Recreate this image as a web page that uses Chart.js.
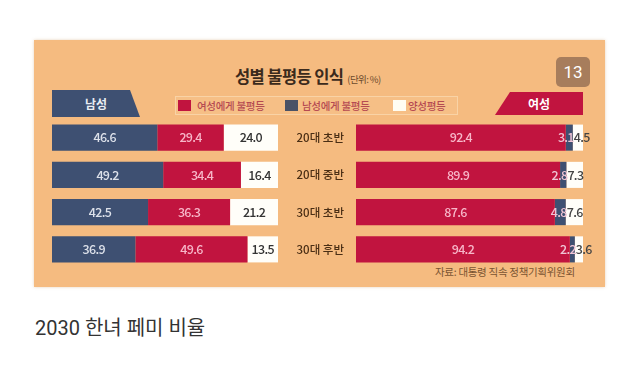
<!DOCTYPE html>
<html>
<head>
<meta charset="utf-8">
<script src="https://cdn.jsdelivr.net/npm/chart.js@4"></script>
<style>
  body { margin: 0; width: 640px; height: 373px; background: #fff; position: relative; overflow: hidden;
         font-family: "Noto Sans CJK KR", "Noto Sans", sans-serif; }
  .abs { position: absolute; }
  #panel { left: 34px; top: 40px; width: 571px; height: 247px; background: #F5BB80;
           box-shadow: 0 0 3px rgba(200,150,90,0.4); }
  #title { left: 235px; top: 64px; font-size: 16.5px; font-weight: 700; color: #3b2a1c; letter-spacing: -0.6px; white-space: nowrap; }
  #title span { font-size: 9.5px; font-weight: 400; color: #6b4a2c; margin-left: 4px; }
  #legend { left: 175px; top: 96px; width: 281px; height: 17px; border: 1px solid #F9D3A6; background: #F6BF86;
            font-size: 10.5px; font-weight: 500; color: #B54A52; letter-spacing: -0.3px; white-space: nowrap; }
  #legend i { position: absolute; top: 3px; width: 13px; height: 11px; }
  #legend b { position: absolute; top: 0px; font-weight: 500; line-height: 17px; }
  .pill { top: 90px; height: 27px; color: #e9ecf2; font-size: 12px; font-weight: 700; line-height: 27px; text-align: center; }
  #men { left: 52px; width: 88px; background: #3E5072; clip-path: polygon(0 0, 78px 0, 88px 100%, 0 100%); }
  #women { left: 495px; width: 88px; top: 92px; height: 23px; line-height: 23px; color: #fff; background: #C1143F; clip-path: polygon(15px 0, 100% 0, 100% 100%, 0 100%); }
  #badge { left: 556px; top: 57px; width: 34px; height: 30px; border-radius: 5px; background: #A77D5C; color: #fff;
           font-family: Roboto, sans-serif; font-size: 17px; line-height: 30px; text-align: center; }
  #source { left: 435px; top: 264px; font-size: 10.5px; color: #7a5432; letter-spacing: -0.3px; white-space: nowrap; }
  #caption { left: 35px; top: 312px; font-size: 20px; color: #333; white-space: nowrap; font-family: Roboto, "Noto Sans CJK KR", sans-serif; }
  #leftBox { left: 52px; top: 119px; width: 226px; height: 149px; }
  #rightBox { left: 280px; top: 119px; width: 320px; height: 149px; }
</style>
</head>
<body>
<div id="panel" class="abs"></div>
<div id="title" class="abs">성별 불평등 인식<span>(단위: %)</span></div>
<div id="legend" class="abs">
  <i style="left:2px;background:#C1143F"></i><b style="left:21px">여성에게 불평등</b>
  <i style="left:109px;background:#4a5266"></i><b style="left:126px">남성에게 불평등</b>
  <i style="left:217px;background:#fffdf2"></i><b style="left:232px">양성평등</b>
</div>
<div id="men" class="abs pill">남성</div>
<div id="women" class="abs pill">여성</div>
<div id="badge" class="abs">13</div>
<div id="source" class="abs">자료: 대통령 직속 정책기획위원회</div>
<div id="caption" class="abs">2030 한녀 페미 비율</div>
<div id="leftBox" class="abs"><canvas id="menChart"></canvas></div>
<div id="rightBox" class="abs"><canvas id="womenChart"></canvas></div>
<script>
const categories = ["20대 초반", "20대 중반", "30대 초반", "30대 후반"];
// 남성 응답
const menUnfairToMen = [46.6, 49.2, 42.5, 36.9];
const menUnfairToWomen = [29.4, 34.4, 36.3, 49.6];
const menEqual = [24.0, 16.4, 21.2, 13.5];
// 여성 응답
const womenUnfairToWomen = [92.4, 89.9, 87.6, 94.2];
const womenUnfairToMen = [3.1, 2.8, 4.8, 2.2];
const womenEqual = [4.5, 7.3, 7.6, 3.6];

const BLUE = "#3E5072";
const RED = "#C1143F";
const WHITE = "#FFFEF9";

// 막대 안에 값 쓰기 (좁은 칸은 끝/시작에 붙여서)
const segmentLabels = {
  id: "segmentLabels",
  afterDatasetsDraw(chart) {
    const ctx = chart.ctx;
    ctx.save();
    ctx.font = "500 12.5px 'Noto Sans CJK KR'";
    ctx.letterSpacing = "-0.7px";
    ctx.textBaseline = "middle";
    chart.data.datasets.forEach((ds, i) => {
      ctx.fillStyle = ds.labelColor;
      chart.getDatasetMeta(i).data.forEach((bar, j) => {
        const { x, y, base } = bar.getProps(["x", "y", "base"], true);
        let tx = (x + base) / 2;
        ctx.textAlign = "center";
        if (ds.labelAlign === "end") {
          ctx.textAlign = "right";
          tx = x + 1;
        } else if (ds.labelAlign === "start") {
          ctx.textAlign = "left";
          tx = base + 1;
        }
        ctx.fillText(ds.data[j].toFixed(1), tx, y);
      });
    });
    ctx.restore();
  },
};

const makeDataset = (label, data, color, labelColor, labelAlign = "center") => ({
  label,
  data,
  backgroundColor: color,
  labelColor,
  labelAlign,
  borderWidth: 0,
  categoryPercentage: 1,
  barPercentage: 0.7,
});

const baseOptions = (showCategories) => ({
  indexAxis: "y",
  responsive: true,
  maintainAspectRatio: false,
  animation: false,
  plugins: { legend: { display: false }, tooltip: { enabled: false } },
  layout: { padding: showCategories ? { right: 17 } : 0 },
  scales: {
    x: { stacked: true, min: 0, max: 100, display: false },
    y: {
      stacked: true,
      display: showCategories,
      grid: { display: false, drawTicks: false },
      border: { display: false },
      ticks: { color: "#4a2e14", font: { family: "Noto Sans CJK KR", size: 11.5, weight: 500 }, padding: 12 },
      afterFit: (scale) => {
        if (showCategories) {
          scale.width = 76;
          scale.paddingTop = 0;
          scale.paddingBottom = 0;
        }
      },
    },
  },
});

new Chart(document.querySelector("#menChart"), {
  type: "bar",
  data: {
    labels: categories,
    datasets: [
      makeDataset("남성에게 불평등", menUnfairToMen, BLUE, "#DDE1EA"),
      makeDataset("여성에게 불평등", menUnfairToWomen, RED, "#F7B6C8"),
      makeDataset("양성평등", menEqual, WHITE, "#333333"),
    ],
  },
  options: baseOptions(false),
  plugins: [segmentLabels],
});

new Chart(document.querySelector("#womenChart"), {
  type: "bar",
  data: {
    labels: categories,
    datasets: [
      makeDataset("여성에게 불평등", womenUnfairToWomen, RED, "#F7B6C8"),
      makeDataset("남성에게 불평등", womenUnfairToMen, BLUE, "#EFC4D4", "end"),
      makeDataset("양성평등", womenEqual, WHITE, "#444444", "start"),
    ],
  },
  options: baseOptions(true),
  plugins: [segmentLabels],
});
</script>
</body>
</html>
